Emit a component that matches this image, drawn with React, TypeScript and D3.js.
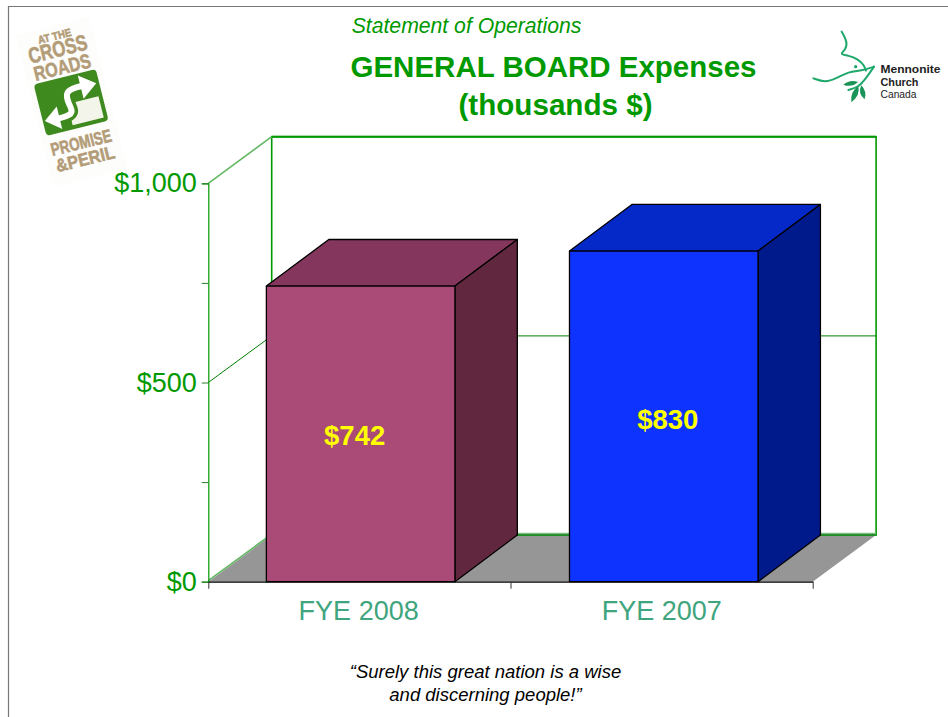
import React, { useEffect, useRef } from 'react';
import * as d3 from 'd3';

const categories = ['FYE 2008', 'FYE 2007'];
const expenses = [742, 830];
const barLabels = ['$742', '$830'];
const labelShift = [-6, 4];
const labelDrop = [11, 13];
const frontColors = ['#aa4a76', '#0f33ff'];
const topColors = ['#85365c', '#0528c8'];
const sideColors = ['#61273f', '#001a8c'];
const yTicks = [0, 250, 500, 750, 1000];
const yLabels: Record<number, string> = { 0: '$0', 500: '$500', 1000: '$1,000' };

const GREEN = '#009900';
const DEPTH_X = 63.4;
const DEPTH_Y = 46.6;
const SANS = '"Liberation Sans", Arial, sans-serif';
const TAN = '#b39c78';
const LOGO_GREEN = '#3f8a1e';
const DOVE = '#1fa86b';

const App = () => {
  const chart = useRef<SVGSVGElement>(null);

  useEffect(() => {
    const svg = d3.select(chart.current);
    svg.selectAll('*').remove();

    const x = d3.scaleBand().domain(categories).range([210, 814.4]).paddingInner(0.378).paddingOuter(0.186);
    const edge = d3.scaleLinear().domain([0, 2]).range([208.3, 812.7]);
    const y = d3.scaleLinear().domain([0, 1000]).range([581.7, 183.3]);
    const line = d3.line();
    const poly = (p: [number, number][]) => line(p) + 'Z';
    const bx = x.bandwidth();

    // slide frame
    svg.append('path').attr('d', 'M8.5,717V6.5H948').attr('fill', 'none').attr('stroke', '#777').attr('stroke-width', 1.2);

    // headings
    const heading = (s: string, cx: number, by: number, size: number, opts: any = {}) =>
      svg.append('text').text(s).attr('x', cx).attr('y', by).attr('text-anchor', 'middle')
        .attr('font-family', SANS).attr('font-size', size)
        .attr('font-weight', opts.weight || 'normal').attr('font-style', opts.style || 'normal')
        .attr('fill', opts.fill || GREEN);
    heading('Statement of Operations', 466.5, 33, 21.2, { style: 'italic' });
    heading('GENERAL BOARD Expenses', 553.5, 77, 29.5, { weight: 'bold' });
    heading('(thousands $)', 555.5, 115, 29.6, { weight: 'bold' });
    heading('\u201cSurely this great nation is a wise', 485.5, 678, 18.5, { style: 'italic', fill: '#000' });
    heading('and discerning people!\u201d', 485.5, 701, 18.5, { style: 'italic', fill: '#000' });

    // 3d walls and floor
    const x0 = edge(0);
    const x1 = edge(2);
    const y0 = y(0);
    const wallX = x0 + DEPTH_X;
    const wallR = x1 + DEPTH_X;
    const wallB = y0 - DEPTH_Y;
    const wallT = y(1000) - DEPTH_Y;

    svg.append('path').attr('d', poly([[x0, y0], [wallX, wallB], [wallR, wallB], [x1, y0]])).attr('fill', '#969696');
    svg.append('rect').attr('x', wallX).attr('y', wallT).attr('width', wallR - wallX).attr('height', wallB - wallT)
      .attr('fill', 'none').attr('stroke', GREEN).attr('stroke-width', 1.6);
    svg.append('path').attr('d', line([[wallX, wallT], [wallR, wallT]])).attr('stroke', GREEN).attr('stroke-width', 2);
    svg.append('path').attr('d', line([[wallX, wallB - 1.5], [wallR, wallB - 1.5]])).attr('stroke', '#7fc07f').attr('stroke-width', 1.5);
    svg.append('path').attr('d', line([[wallX, wallB - 0.3], [wallR, wallB - 0.3]])).attr('stroke', '#2e8b3a').attr('stroke-width', 1.5);
    svg.append('path').attr('d', line([[x0, y(1000)], [wallX, wallT]])).attr('stroke', '#63b863').attr('stroke-width', 1.6);
    svg.append('path').attr('d', line([[x0, y0 - 1], [wallX, wallB - 1]])).attr('stroke', '#63b863').attr('stroke-width', 1.6);

    // gridline at 500
    svg.append('path').attr('d', line([[x0, y(500)], [wallX, y(500) - DEPTH_Y], [wallR, y(500) - DEPTH_Y]]))
      .attr('fill', 'none').attr('stroke', '#008000').attr('stroke-width', 1);

    // axes
    const yAxis = svg.append('g').attr('transform', `translate(${x0},0)`)
      .call(d3.axisLeft(y).tickValues(yTicks).tickSize(6.5).tickPadding(4).tickFormat((d: any) => yLabels[d] || ''));
    yAxis.select('.domain').attr('stroke', GREEN).attr('stroke-width', 1.2);
    yAxis.selectAll('.tick line').attr('stroke', '#2c7a2c');
    yAxis.selectAll('text').attr('font-family', SANS).attr('font-size', 27).attr('fill', GREEN).attr('dx', -1);

    const xTicks = svg.append('g').attr('transform', `translate(0,${y0})`)
      .call(d3.axisBottom(edge).tickValues([0, 1, 2]).tickSize(7).tickSizeOuter(0).tickFormat(() => ''));
    xTicks.select('.domain').attr('stroke', '#000').attr('stroke-width', 1.3);
    xTicks.selectAll('.tick line').attr('stroke', '#333');

    const xLabels = svg.append('g').attr('transform', `translate(0,${y0})`)
      .call(d3.axisBottom(x).tickSize(0).tickPadding(19));
    xLabels.select('.domain').remove();
    xLabels.selectAll('text').attr('font-family', SANS).attr('font-size', 27).attr('fill', '#3fa57e').attr('dx', -2);

    // bars
    const bars = svg.append('g').selectAll('g').data(categories).enter().append('g')
      .attr('stroke', '#000').attr('stroke-width', 1.3).attr('stroke-linejoin', 'round');
    bars.append('path')
      .attr('d', (d, i) => {
        const l = x(d)!;
        const t = y(expenses[i]);
        return poly([[l, t], [l + DEPTH_X - 1, t - DEPTH_Y], [l + bx + DEPTH_X - 1, t - DEPTH_Y], [l + bx, t]]);
      })
      .attr('fill', (_d, i) => topColors[i]);
    bars.append('path')
      .attr('d', (d, i) => {
        const r = x(d)! + bx;
        const t = y(expenses[i]);
        return poly([[r, t], [r + DEPTH_X - 1, t - DEPTH_Y], [r + DEPTH_X - 1, y0 - DEPTH_Y], [r, y0]]);
      })
      .attr('fill', (_d, i) => sideColors[i]);
    bars.append('rect')
      .attr('x', d => x(d)!)
      .attr('y', (_d, i) => y(expenses[i]))
      .attr('width', bx)
      .attr('height', (_d, i) => y0 - y(expenses[i]))
      .attr('fill', (_d, i) => frontColors[i]);

    svg.append('g').selectAll('text').data(categories).enter().append('text')
      .text((_d, i) => barLabels[i])
      .attr('x', (d, i) => x(d)! + bx / 2 + labelShift[i])
      .attr('y', (_d, i) => y(expenses[i] / 2) + labelDrop[i])
      .attr('text-anchor', 'middle')
      .attr('font-family', SANS).attr('font-weight', 'bold').attr('font-size', 27.5)
      .attr('fill', '#ffff00');

    // conference logo, top left
    const cross = svg.append('g').attr('transform', 'translate(71,102) rotate(-14)');
    cross.append('rect').attr('x', -38).attr('y', -78).attr('width', 76).attr('height', 156).attr('fill', '#fdfdfb');
    const tanText = (s: string, by: number, size: number, len: number) =>
      cross.append('text').text(s).attr('x', 0).attr('y', by).attr('text-anchor', 'middle')
        .attr('font-family', '"Liberation Sans Narrow", "Liberation Sans", sans-serif').attr('font-weight', 'bold')
        .attr('font-size', size).attr('fill', TAN).attr('stroke', TAN).attr('stroke-width', 0.6)
        .attr('textLength', len).attr('lengthAdjust', 'spacingAndGlyphs');
    tanText('AT THE', -64, 11, 34);
    tanText('CROSS', -47, 22, 60);
    tanText('ROADS', -29, 20, 58);
    tanText('PROMISE', 48, 18, 62);
    tanText('&PERIL', 65, 18, 60);

    cross.append('rect').attr('x', -32).attr('y', -26).attr('width', 64).attr('height', 53).attr('rx', 4).attr('fill', LOGO_GREEN);
    cross.append('rect').attr('x', -4).attr('y', 1).attr('width', 32).attr('height', 22).attr('fill', '#f4f5ea');
    const road = d3.line().curve(d3.curveBasis);
    const roadPts: [number, number][] = [[-22, 13], [-6, 13], [0, 10], [-3, 0], [-3, -10], [4, -13], [16, -13]];
    cross.append('path').attr('d', road(roadPts)).attr('fill', 'none').attr('stroke', LOGO_GREEN).attr('stroke-width', 13);
    cross.append('path').attr('d', road(roadPts)).attr('fill', 'none').attr('stroke', '#fff').attr('stroke-width', 6);
    cross.append('path').attr('d', poly([[13, -24], [29, -12], [13, 0]])).attr('fill', '#fff');
    cross.append('path').attr('d', poly([[-15, 1], [-30, 12], [-15, 24]])).attr('fill', '#fff');

    // church logo, top right
    const dove = svg.append('g').attr('transform', 'translate(790,10) scale(0.3333)');
    const curve = d3.line().curve(d3.curveBasis);
    const strokes: [number, number][][] = [
      [[155, 65], [172, 95], [168, 118], [148, 134], [175, 136], [205, 148], [222, 165], [228, 182]],
      [[70, 205], [105, 218], [140, 205], [175, 185], [215, 182], [252, 170]],
      [[175, 240], [205, 232], [228, 205], [252, 170]],
    ];
    strokes.forEach(s => {
      dove.append('path').attr('d', curve(s)).attr('fill', 'none').attr('stroke', DOVE).attr('stroke-width', 6).attr('stroke-linecap', 'round');
    });
    dove.append('circle').attr('cx', 197).attr('cy', 170).attr('r', 5).attr('fill', DOVE);
    const leaves: string[] = [
      'M160,224Q180,208 204,216Q184,234 160,224Z',
      'M184,277Q180,245 205,228Q212,255 184,277Z',
      'M224,268Q202,250 214,226Q232,245 224,268Z',
    ];
    leaves.forEach(d => { dove.append('path').attr('d', d).attr('fill', '#1a9358'); });

    const church = (s: string, by: number, weight: string, len: number) =>
      svg.append('text').text(s).attr('x', 880.5).attr('y', by)
        .attr('font-family', SANS).attr('font-weight', weight).attr('font-size', 10.6)
        .attr('fill', '#222').attr('textLength', len).attr('lengthAdjust', 'spacingAndGlyphs');
    church('Mennonite', 73, 'bold', 60);
    church('Church', 85.5, 'bold', 38);
    church('Canada', 98, 'normal', 36);
  }, []);

  return <svg ref={chart} width={948} height={717} style={{ position: 'absolute', left: 0, top: 0, background: '#fff' }} />;
};

export default App;
